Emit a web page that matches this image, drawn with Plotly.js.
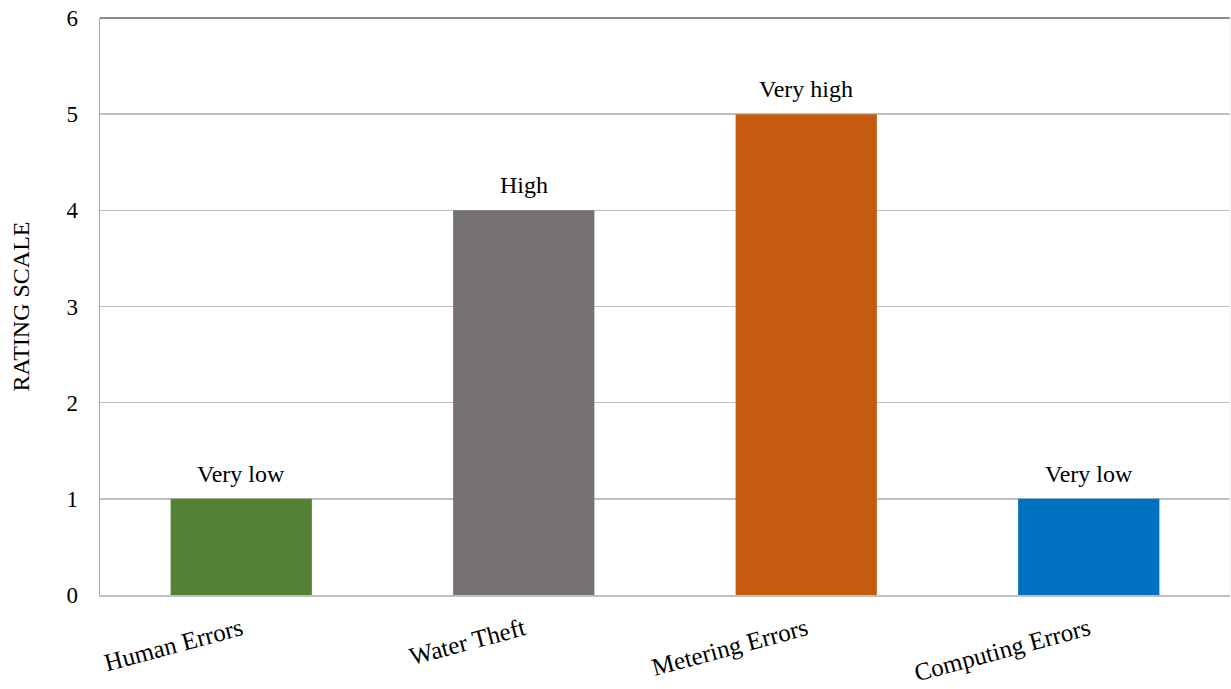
<!DOCTYPE html>
<html>
<head>
<meta charset="utf-8">
<script src="https://cdn.plot.ly/plotly-3.0.1.min.js"></script>
<style>
  html, body { margin: 0; padding: 0; background: #ffffff; }
  #chart { width: 1231px; height: 689px; }
</style>
</head>
<body>
<div id="chart"></div>
<script>
// Causes of non-revenue water and their rated impact
const categories = ["Human Errors", "Water Theft", "Metering Errors", "Computing Errors"];
const ratings = [1, 4, 5, 1];
const ratingLabels = ["Very low", "High", "Very high", "Very low"];
const barColors = ["#548235", "#767171", "#C55A11", "#0070C0"];

const serif = "Liberation Serif, Times New Roman, serif";

const trace = {
  type: "bar",
  x: categories,
  y: ratings,
  marker: { color: barColors, line: { width: 0 } },
  width: 0.5,
  hoverinfo: "x+y"
};

// value labels sitting just above each bar
const labels = categories.map((c, i) => ({
  x: c,
  y: ratings[i],
  xref: "x",
  yref: "y",
  text: ratingLabels[i],
  showarrow: false,
  yanchor: "bottom",
  yshift: 10,
  font: { family: serif, size: 24, color: "#000000" }
}));

const layout = {
  width: 1231,
  height: 689,
  margin: { l: 100, r: 1, t: 18, b: 94 },
  paper_bgcolor: "#ffffff",
  plot_bgcolor: "#ffffff",
  showlegend: false,
  font: { family: serif, size: 22, color: "#000000" },
  xaxis: {
    type: "category",
    tickangle: -15,
    tickfont: { family: serif, size: 25, color: "#000000" },
    showgrid: false,
    showline: true,
    linecolor: "#BFBFBF",
    linewidth: 2,
    ticks: "",
    ticklabelstandoff: 8,
    zeroline: false
  },
  yaxis: {
    range: [0, 6],
    dtick: 1,
    tickfont: { family: serif, size: 23, color: "#000000" },
    showgrid: true,
    gridcolor: "#BFBFBF",
    gridwidth: 1.5,
    showline: true,
    linecolor: "#A6A6A6",
    linewidth: 1.5,
    ticks: "",
    ticklabelstandoff: 16,
    zeroline: false,
    title: { text: "RATING SCALE", font: { family: serif, size: 24, color: "#000000" }, standoff: 30 }
  },
  annotations: labels,
  shapes: [
    { type: "line", xref: "paper", yref: "paper", x0: 0, x1: 1, y0: 1, y1: 1,
      line: { color: "#8C8C8C", width: 2 } },
    { type: "line", xref: "paper", yref: "paper", x0: 1, x1: 1, y0: 0, y1: 1,
      line: { color: "#EEEEEE", width: 1 } }
  ]
};

Plotly.newPlot("chart", [trace], layout, { displayModeBar: false, staticPlot: true });
</script>
</body>
</html>
